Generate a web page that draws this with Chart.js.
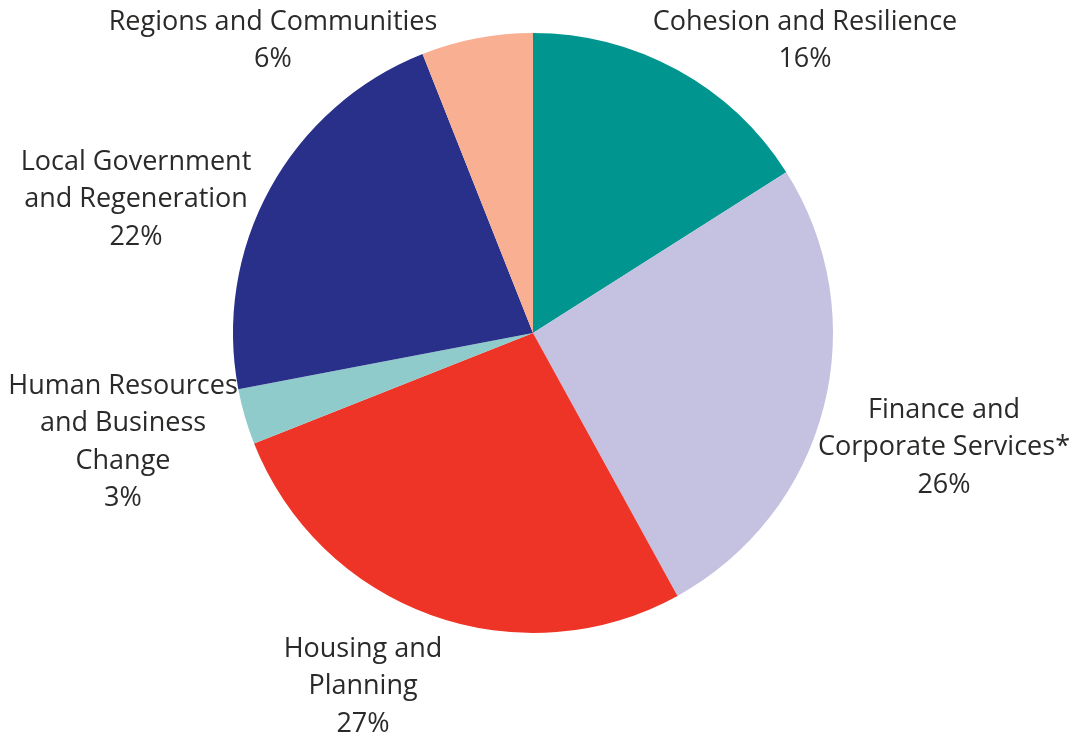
<!DOCTYPE html>
<html>
<head>
<meta charset="utf-8">
<script src="https://cdn.jsdelivr.net/npm/chart.js@4"></script>
<style>
  html, body { margin: 0; padding: 0; background: #fff; }
  #wrap { width: 1080px; height: 738px; position: relative; }
</style>
</head>
<body>
<div id="wrap"><canvas id="chart"></canvas></div>
<script>
// Daten (Anteile in %, im Uhrzeigersinn ab 12 Uhr)
const categories = [
  'Cohesion and Resilience',
  'Finance and Corporate Services*',
  'Housing and Planning',
  'Human Resources and Business Change',
  'Local Government and Regeneration',
  'Regions and Communities'
];
const shares = [16, 26, 27, 3, 22, 6];

// Beschriftungen, so umbrochen wie im Original
const labelLines = [
  ['Cohesion and Resilience'],
  ['Finance and', 'Corporate Services*'],
  ['Housing and', 'Planning'],
  ['Human Resources', 'and Business', 'Change'],
  ['Local Government', 'and Regeneration'],
  ['Regions and Communities']
];

const COLORS = ['#00968f', '#c4c2e0', '#ee3426', '#8fcbca', '#28308a', '#f9af92'];

// Position der Beschriftungen (Mitte x, erste Zeile y) – Layout, keine Daten
const LABEL_POS = [
  { x: 805, y: 22 },
  { x: 944, y: 410 },
  { x: 363, y: 649 },
  { x: 123, y: 386 },
  { x: 136, y: 162 },
  { x: 273, y: 22 }
];
const LINE_H = 37.5;

const labelPlugin = {
  id: 'outerLabels',
  afterDraw(chart) {
    const ctx = chart.ctx;
    ctx.save();
    ctx.font = '27px "Open Sans", "Noto Sans", sans-serif';
    ctx.fillStyle = '#2b2a29';
    ctx.textAlign = 'center';
    ctx.textBaseline = 'middle';
    labelLines.forEach((lines, i) => {
      const p = LABEL_POS[i];
      const all = lines.concat([shares[i] + '%']);
      all.forEach((t, j) => ctx.fillText(t, p.x, p.y + j * LINE_H));
    });
    ctx.restore();
  }
};

new Chart(document.getElementById('chart'), {
  type: 'pie',
  data: {
    labels: categories,
    datasets: [{
      data: shares,
      backgroundColor: COLORS,
      borderWidth: 0
    }]
  },
  options: {
    responsive: true,
    maintainAspectRatio: false,
    animation: false,
    layout: { padding: { left: 233, right: 247, top: 33, bottom: 105 } },
    plugins: {
      legend: { display: false },
      tooltip: { enabled: false }
    }
  },
  plugins: [labelPlugin]
});
</script>
</body>
</html>
